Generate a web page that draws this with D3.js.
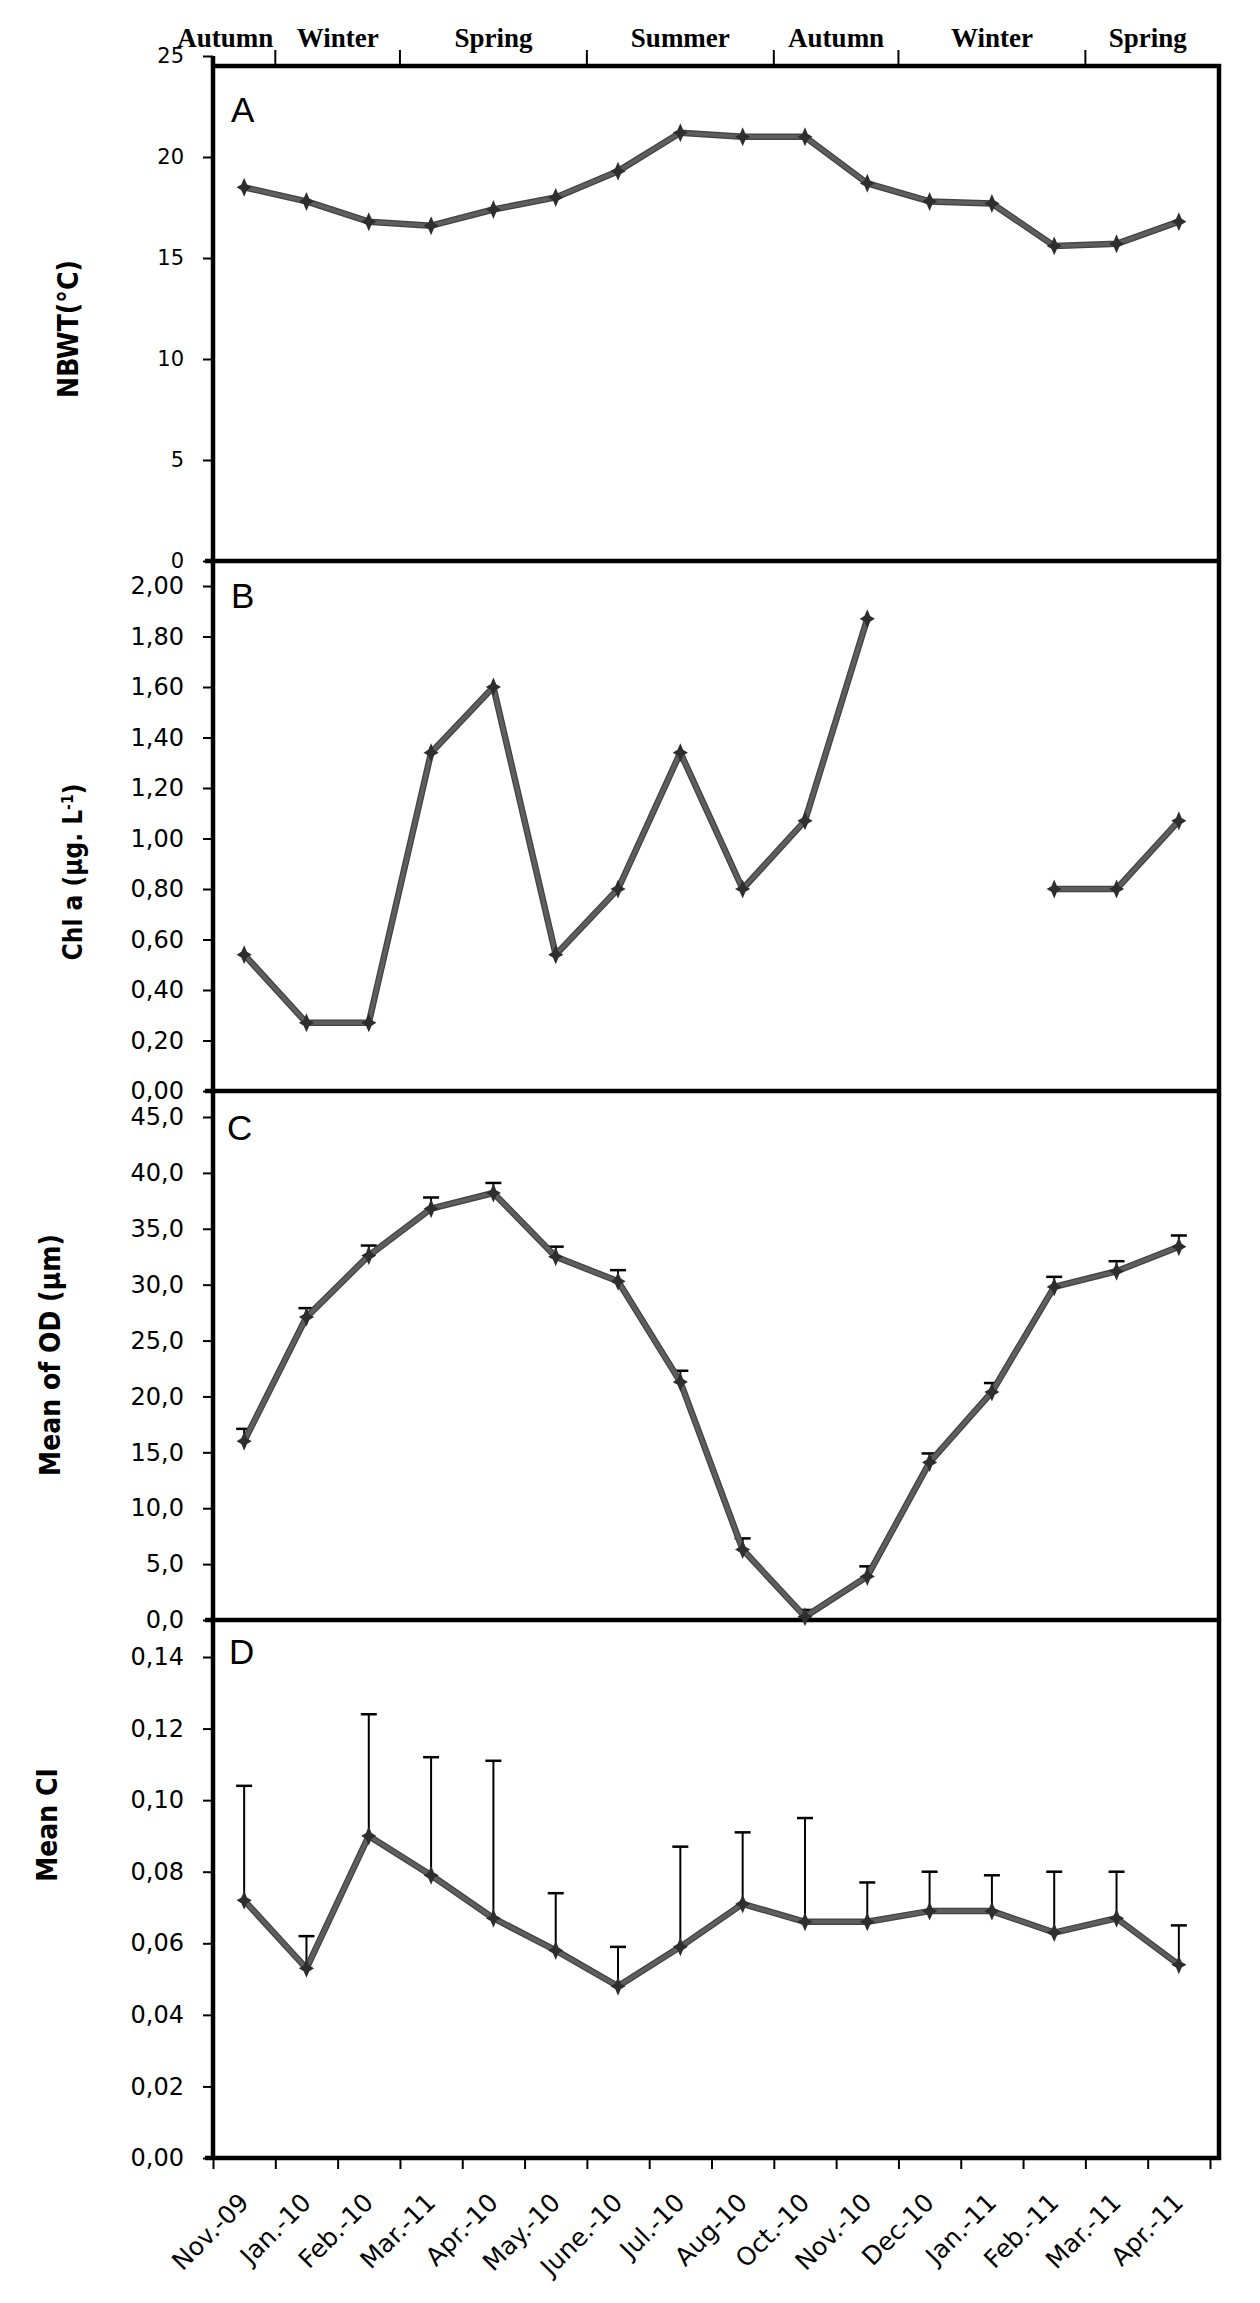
<!DOCTYPE html>
<html>
<head>
<meta charset="utf-8">
<script src="https://cdn.jsdelivr.net/npm/d3@7"></script>
<style>
  body { margin: 0; background: #fff; }
  svg  { display: block; }
</style>
</head>
<body>
<svg id="chart" width="1260" height="2303"></svg>
<script>
"use strict";

// ---- data ----
const months  = [ 'Nov.-09', 'Jan.-10', 'Feb.-10', 'Mar.-11', 'Apr.-10', 'May.-10', 'June.-10', 'Jul.-10',
                  'Aug-10', 'Oct.-10', 'Nov.-10', 'Dec-10', 'Jan.-11', 'Feb.-11', 'Mar.-11', 'Apr.-11' ];

const seasons      = [ 'Autumn', 'Winter', 'Spring', 'Summer', 'Autumn', 'Winter', 'Spring' ];
const seasonBreaks = [ 0, 1, 3, 6, 9, 11, 14, 16 ];   // month index where each season starts / ends

const nbwt    = [ 18.5, 17.8, 16.8, 16.6, 17.4, 18.0, 19.3, 21.2, 21.0, 21.0, 18.7, 17.8, 17.7, 15.6, 15.7, 16.8 ];
const chla    = [ 0.54, 0.27, 0.27, 1.34, 1.60, 0.54, 0.80, 1.34, 0.80, 1.07, 1.87, null, null, 0.80, 0.80, 1.07 ];
const odMean  = [ 16.0, 27.1, 32.6, 36.8, 38.2, 32.5, 30.3, 21.3, 6.3, 0.3, 3.9, 14.1, 20.4, 29.8, 31.2, 33.4 ];
const odErr   = [ 1.1, 0.8, 0.9, 1.0, 0.9, 0.9, 1.0, 1.0, 1.0, 0.6, 0.9, 0.8, 0.8, 0.9, 0.9, 1.0 ];
const ciMean  = [ 0.072, 0.053, 0.090, 0.079, 0.067, 0.058, 0.048, 0.059, 0.071, 0.066, 0.066, 0.069, 0.069, 0.063, 0.067, 0.054 ];
const ciErr   = [ 0.032, 0.009, 0.034, 0.033, 0.044, 0.016, 0.011, 0.028, 0.020, 0.029, 0.011, 0.011, 0.010, 0.017, 0.013, 0.011 ];

const ticksA = d3.range( 0, 26, 5 );
const ticksB = d3.range( 0, 2.001, 0.2 );
const ticksC = d3.range( 0, 45.01, 5 );
const ticksD = d3.range( 0, 0.1401, 0.02 );

// ---- layout ----
const plot = { left: 213, right: 1219, top: 66, bandEnd: 1210 };

const comma = d3.formatLocale( { decimal: ',', thousands: '.', grouping: [3], currency: [ '', '' ] } );

const panels = [
  { letter: 'A', values: nbwt, domain: [0, 25],   range: [561, 56],    ticks: ticksA, fmt: d3.format( 'd' ),
    tickFont: 21, title: 'NBWT(°C)', titleX: 78, titleY: 329, letterPos: [231, 122] },
  { letter: 'B', values: chla, domain: [0, 2],    range: [1091, 586],  ticks: ticksB, fmt: comma.format( '.2f' ),
    tickFont: 24, title: 'Chl a (µg. L', sup: '-1', titleEnd: ')', titleX: 82, titleY: 872, titleSize: 26,
    letterPos: [231, 608] },
  { letter: 'C', values: odMean, err: odErr, domain: [0, 45], range: [1620, 1117], ticks: ticksC, fmt: comma.format( '.1f' ),
    tickFont: 24, title: 'Mean of OD (µm)', titleX: 60, titleY: 1355, letterPos: [227, 1140] },
  { letter: 'D', values: ciMean, err: ciErr, domain: [0, 0.14], range: [2158, 1657], ticks: ticksD, fmt: comma.format( '.2f' ),
    tickFont: 24, title: 'Mean CI', titleX: 57, titleY: 1825, letterPos: [229, 1664] },
];

// small four-pointed star, like the spreadsheet markers
const star4 = {
  draw( ctx, size ) {
    const r = Math.sqrt( size ), w = r * 0.8, k = r * 0.3;
    ctx.moveTo( 0, -r );
    ctx.lineTo( k, -k );
    ctx.lineTo( w, 0 );
    ctx.lineTo( k, k );
    ctx.lineTo( 0, r );
    ctx.lineTo( -k, k );
    ctx.lineTo( -w, 0 );
    ctx.lineTo( -k, -k );
    ctx.closePath();
  }
};

const svg = d3.select( '#chart' );
svg.append( 'rect' ).attr( 'width', 1260 ).attr( 'height', 2303 ).attr( 'fill', '#fff' );

// shared x scales: bands for the points, linear for the boundaries / ticks
const x  = d3.scaleBand().domain( d3.range( months.length ) ).range( [ plot.left, plot.bandEnd ] ).padding( 0 );
const xb = d3.scaleLinear().domain( [ 0, months.length ] ).range( [ plot.left, plot.bandEnd ] );
const cx = (i) => x( i ) + x.bandwidth() / 2;

const bottomY = panels[ panels.length - 1 ].range[0];

panels.forEach( (p) => {

  const y = d3.scaleLinear().domain( p.domain ).range( p.range );

  // y axis ticks + labels
  const ax = svg.append( 'g' )
                .attr( 'transform', `translate(${plot.left},0)` )
                .call( d3.axisLeft( y ).tickValues( p.ticks ).tickSize( 10 ).tickPadding( 19 ).tickFormat( p.fmt ) );
  ax.select( '.domain' ).remove();
  ax.selectAll( '.tick line' ).attr( 'stroke', '#000' ).attr( 'stroke-width', 2 );
  ax.selectAll( '.tick text' )
      .attr( 'fill', '#000' )
      .style( 'font-family', '"DejaVu Sans", Verdana, sans-serif' )
      .style( 'font-size', p.tickFont + 'px' );

  // zero line of the panel
  svg.append( 'line' )
      .attr( 'x1', plot.left - 8 ).attr( 'x2', plot.right + 2 )
      .attr( 'y1', y( 0 ) ).attr( 'y2', y( 0 ) )
      .attr( 'stroke', '#000' ).attr( 'stroke-width', 4.5 );

  // upward error bars
  if( p.err ) {
    const eb = svg.append( 'g' ).attr( 'class', 'errbars' )
                  .selectAll( 'g' ).data( p.values ).enter().append( 'g' );
    eb.append( 'line' )
        .attr( 'x1', (d,i) => cx( i ) ).attr( 'x2', (d,i) => cx( i ) )
        .attr( 'y1', (d) => y( d ) ).attr( 'y2', (d,i) => y( d + p.err[i] ) )
        .attr( 'stroke', '#000' ).attr( 'stroke-width', 2 );
    eb.append( 'line' )
        .attr( 'x1', (d,i) => cx( i ) - 8 ).attr( 'x2', (d,i) => cx( i ) + 8 )
        .attr( 'y1', (d,i) => y( d + p.err[i] ) ).attr( 'y2', (d,i) => y( d + p.err[i] ) )
        .attr( 'stroke', '#000' ).attr( 'stroke-width', 2.5 );
  }

  // the series line, with gaps for missing months
  const line = d3.line()
                 .defined( (d) => d != null )
                 .x( (d,i) => cx( i ) )
                 .y( (d) => y( d ) );
  svg.append( 'path' ).datum( p.values )
      .attr( 'd', line ).attr( 'fill', 'none' )
      .attr( 'stroke', '#424242' ).attr( 'stroke-width', 6.5 ).attr( 'stroke-linejoin', 'round' );
  svg.append( 'path' ).datum( p.values )
      .attr( 'd', line ).attr( 'fill', 'none' )
      .attr( 'stroke', '#5e5e5e' ).attr( 'stroke-width', 4 ).attr( 'stroke-linejoin', 'round' );

  // star markers
  svg.append( 'g' )
    .selectAll( 'path' )
      .data( p.values.map( (v,i) => [ v, i ] ).filter( (d) => d[0] != null ) )
    .enter().append( 'path' )
      .attr( 'd', d3.symbol( star4, 90 ) )
      .attr( 'transform', (d) => `translate(${cx( d[1] )},${y( d[0] )})` )
      .attr( 'fill', '#2e2e2e' );

  // panel letter
  svg.append( 'text' )
      .attr( 'x', p.letterPos[0] ).attr( 'y', p.letterPos[1] )
      .style( 'font-family', '"Liberation Sans", Arial, sans-serif' )
      .style( 'font-size', '35px' )
      .text( p.letter );

  // y axis title
  const t = svg.append( 'text' )
      .attr( 'transform', `translate(${p.titleX},${p.titleY}) rotate(-90)` )
      .attr( 'text-anchor', 'middle' )
      .style( 'font-family', '"DejaVu Sans Condensed", "DejaVu Sans", sans-serif' )
      .style( 'font-stretch', 'condensed' )
      .style( 'font-weight', 'bold' )
      .style( 'font-size', ( p.titleSize || 28 ) + 'px' )
      .text( p.title );
  if( p.sup ) {
    t.append( 'tspan' ).attr( 'baseline-shift', 'super' ).style( 'font-size', '60%' ).text( p.sup );
    t.append( 'tspan' ).text( p.titleEnd );
  }

});

// left axis and right border
svg.append( 'line' )
    .attr( 'x1', plot.left ).attr( 'x2', plot.left )
    .attr( 'y1', panels[0].range[1] ).attr( 'y2', bottomY + 2 )
    .attr( 'stroke', '#000' ).attr( 'stroke-width', 4.5 );
svg.append( 'line' )
    .attr( 'x1', plot.right ).attr( 'x2', plot.right )
    .attr( 'y1', plot.top - 2 ).attr( 'y2', bottomY + 2 )
    .attr( 'stroke', '#000' ).attr( 'stroke-width', 4.5 );

// season axis on top
svg.append( 'line' )
    .attr( 'x1', plot.left - 2 ).attr( 'x2', plot.right + 2 )
    .attr( 'y1', plot.top ).attr( 'y2', plot.top )
    .attr( 'stroke', '#000' ).attr( 'stroke-width', 4.5 );

svg.append( 'g' )
  .selectAll( 'line' )
    .data( seasonBreaks.slice( 1, -1 ) )
  .enter().append( 'line' )
    .attr( 'x1', (d) => xb( d ) ).attr( 'x2', (d) => xb( d ) )
    .attr( 'y1', plot.top ).attr( 'y2', plot.top - 16 )
    .attr( 'stroke', '#000' ).attr( 'stroke-width', 2 );

svg.append( 'g' )
  .selectAll( 'text' )
    .data( seasons )
  .enter().append( 'text' )
    .attr( 'y', 47 )
    .attr( 'text-anchor', 'middle' )
    .style( 'font-family', '"Liberation Serif", "Times New Roman", serif' )
    .style( 'font-weight', 'bold' )
    .style( 'font-size', '27px' )
    .text( (d) => d )
    .attr( 'x', function( d, i ) {
      const a = xb( seasonBreaks[i] ), b = xb( seasonBreaks[i+1] ),
            w = this.getComputedTextLength();
      // keep the label left of the next season tick
      return Math.min( ( a + b ) / 2, b - w / 2 - 2 );
    });

// month axis at the bottom: ticks on the band boundaries
const xa = svg.append( 'g' )
              .attr( 'transform', `translate(0,${bottomY + 2})` )
              .call( d3.axisBottom( xb ).ticks( months.length ).tickSize( 9 ).tickFormat( '' ) );
xa.select( '.domain' ).remove();
xa.selectAll( '.tick line' ).attr( 'stroke', '#000' ).attr( 'stroke-width', 2 );

svg.append( 'g' )
  .selectAll( 'text' )
    .data( months )
  .enter().append( 'text' )
    .attr( 'transform', (d,i) => `translate(${cx( i ) + 6},${bottomY + 46}) rotate(-45)` )
    .attr( 'text-anchor', 'end' )
    .style( 'font-family', '"DejaVu Sans", Verdana, sans-serif' )
    .style( 'font-size', '25px' )
    .text( (d) => d );
</script>
</body>
</html>
